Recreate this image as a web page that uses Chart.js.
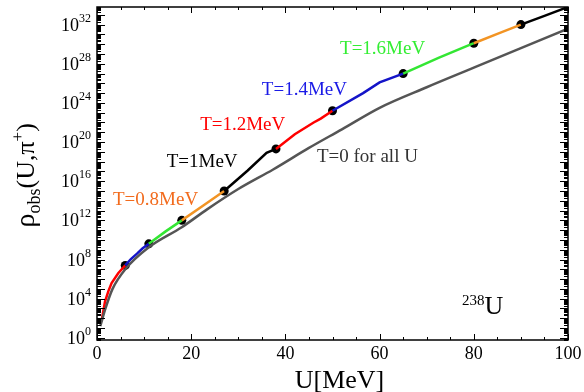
<!DOCTYPE html>
<html>
<head>
<meta charset="utf-8">
<script src="https://cdn.jsdelivr.net/npm/chart.js@4/dist/chart.umd.min.js"></script>
<style>
  html, body { margin: 0; padding: 0; background: #fff; }
  #wrap { width: 584px; height: 392px; }
</style>
</head>
<body>
<div id="wrap"><canvas id="chart"></canvas></div>
<script>
// данные (показатели степени, rho = 10^exp)
const curveU   = [1.0, 1.7, 2.4, 3.1, 4.5, 6, 7.2, 8.5, 9.7, 11, 14.5, 18, 22.5, 27, 32, 36, 38, 42, 46, 47.5, 50, 56.5, 60, 65, 72.5, 80, 85, 90, 95, 100]
const curveExp = [1.8, 3.7, 4.75, 5.6, 6.6, 7.4, 8.05, 8.6, 9.15, 9.6, 10.85, 12.0, 13.5, 15.0, 17.1, 18.9, 19.3, 20.8, 22.0, 22.4, 23.2, 25.0, 26.1, 27.0, 28.6, 30.1, 31.05, 32.0, 32.9, 33.8]

const zeroU   = [0.7, 1.8, 3.3, 6, 11, 18, 23.3, 30, 37.4, 45, 52, 60, 70, 80, 90, 100]
const zeroExp = [1.2, 3.0, 5.0, 7.0, 9.25, 11.3, 13.1, 15.2, 17.2, 19.4, 21.3, 23.5, 25.6, 27.6, 29.6, 31.6]

// точки смены температуры
const breakU = [6, 11, 18, 27, 38, 50, 65, 80, 90]
const segColors = ['#ff0000', '#1414c8', '#33e633', '#f29424', '#000000',
                   '#ff0000', '#1414c8', '#33e633', '#f29424', '#000000']

// оси
const xTicks = [0, 20, 40, 60, 80, 100]
const yTickExp = [0, 4, 8, 12, 16, 20, 24, 28, 32]
const yMinExp = -0.2
const yMaxExp = 33.8

// подписи
const noteText  = ['T=0.8MeV', 'T=1MeV', 'T=1.2MeV', 'T=1.4MeV', 'T=1.6MeV', 'T=0 for all U']
const noteU     = [3.4, 14.8, 21.9, 35.0, 51.6, 46.7]
const noteExp   = [13.6, 17.45, 21.2, 24.8, 29.0, 18.0]
const noteColor = ['#f26b1d', '#000000', '#ff0000', '#1a1ae6', '#33ee33', '#333333']

const FONT = '"Liberation Serif", "Times New Roman", serif'

const curve = curveU.map((u, i) => ({ x: u, y: Math.pow(10, curveExp[i]) }))
const zero  = zeroU.map((u, i) => ({ x: u, y: Math.pow(10, zeroExp[i]) }))
const dots  = breakU.map(u => curve.find(p => p.x === u))

function segColor(ctx) {
    const x0 = ctx.p0.parsed.x
    return segColors[breakU.filter(b => b <= x0).length]
}

function drawPow(ctx, base, exp, xRight, yMid) {
    ctx.font = '12px ' + FONT
    const we = ctx.measureText(exp).width
    ctx.font = '18px ' + FONT
    const wb = ctx.measureText(base).width
    ctx.textAlign = 'left'
    ctx.textBaseline = 'alphabetic'
    ctx.fillText(base, xRight - we - wb, yMid + 6)
    ctx.font = '12px ' + FONT
    ctx.fillText(exp, xRight - we, yMid - 3)
}

const framePlugin = {
    id: 'frame',
    afterDatasetsDraw(chart) {
        const { ctx, chartArea: a, scales: { x, y } } = chart
        ctx.save()
        ctx.strokeStyle = '#000'
        ctx.fillStyle = '#000'
        ctx.lineWidth = 1

        // x тики снизу и сверху
        for (let u = 0; u <= 100; u += 5) {
            const px = Math.round(x.getPixelForValue(u)) + 0.5
            const len = u % 20 === 0 ? 6 : 3
            ctx.beginPath()
            ctx.moveTo(px, a.bottom); ctx.lineTo(px, a.bottom - len)
            ctx.moveTo(px, a.top); ctx.lineTo(px, a.top + len)
            ctx.stroke()
        }

        // y тики (логарифмические) слева и справа
        for (let d = -1; d <= 34; d++) {
            for (let k = 1; k <= 9; k++) {
                const v = k * Math.pow(10, d)
                if (v < y.min || v > y.max) continue
                const py = Math.round(y.getPixelForValue(v)) + 0.5
                const len = k === 1 ? 8 : 4
                ctx.beginPath()
                ctx.moveTo(a.left, py); ctx.lineTo(a.left + len, py)
                ctx.moveTo(a.right, py); ctx.lineTo(a.right - len, py)
                ctx.stroke()
            }
        }

        // рамка
        ctx.lineWidth = 1.5
        ctx.strokeRect(a.left, a.top, a.right - a.left, a.bottom - a.top)

        // подписи оси x
        ctx.font = '18px ' + FONT
        ctx.textAlign = 'center'
        ctx.textBaseline = 'alphabetic'
        xTicks.forEach(u => ctx.fillText(String(u), x.getPixelForValue(u), a.bottom + 19))

        // подписи оси y
        yTickExp.forEach(e => drawPow(ctx, '10', String(e), a.left - 6, y.getPixelForValue(Math.pow(10, e))))

        // заголовок оси x
        ctx.font = '26px ' + FONT
        ctx.textAlign = 'center'
        ctx.fillText('U[MeV]', (a.left + a.right) / 2 + 7, a.bottom + 48)

        // заголовок оси y
        ctx.save()
        ctx.translate(34, (a.top + a.bottom) / 2 + 54)
        ctx.rotate(-Math.PI / 2)
        ctx.textAlign = 'left'
        let cx = 0
        const part = (t, size, dy) => {
            ctx.font = size + 'px ' + FONT
            ctx.fillText(t, cx, dy)
            cx += ctx.measureText(t).width
        }
        part('ρ', 28, 0)
        part('obs', 18, 6)
        part('(U,π', 26, 0)
        part('+', 17, -11)
        part(')', 26, 0)
        ctx.restore()

        // подписи температур
        ctx.font = '19px ' + FONT
        ctx.textAlign = 'left'
        noteText.forEach((t, i) => {
            ctx.fillStyle = noteColor[i]
            ctx.fillText(t, x.getPixelForValue(noteU[i]), y.getPixelForValue(Math.pow(10, noteExp[i])))
        })

        // 238U
        ctx.fillStyle = '#000'
        const ux = x.getPixelForValue(77.5)
        const uy = y.getPixelForValue(Math.pow(10, 2.45))
        ctx.font = '15px ' + FONT
        ctx.fillText('238', ux, uy - 9)
        const w238 = ctx.measureText('238').width
        ctx.font = '26px ' + FONT
        ctx.fillText('U', ux + w238, uy)

        ctx.restore()
    }
}

new Chart(document.getElementById('chart'), {
    type: 'line',
    data: {
        datasets: [
            {
                data: zero,
                borderColor: '#555555',
                borderWidth: 2.5,
                pointRadius: 0,
                cubicInterpolationMode: 'monotone',
            },
            {
                data: curve,
                borderColor: '#000',
                borderWidth: 2.5,
                pointRadius: 0,
                tension: 0,
                segment: { borderColor: segColor },
            },
            {
                data: dots,
                showLine: false,
                pointRadius: 4.5,
                pointBackgroundColor: '#000',
                pointBorderWidth: 0,
            },
        ]
    },
    options: {
        responsive: true,
        maintainAspectRatio: false,
        animation: false,
        layout: { padding: { left: 97, right: 16, top: 7, bottom: 52 } },
        plugins: { legend: { display: false }, tooltip: { enabled: false } },
        scales: {
            x: { type: 'linear', min: 0, max: 100, display: false },
            y: { type: 'logarithmic', min: Math.pow(10, yMinExp), max: Math.pow(10, yMaxExp), display: false },
        }
    },
    plugins: [framePlugin]
})
</script>
</body>
</html>
